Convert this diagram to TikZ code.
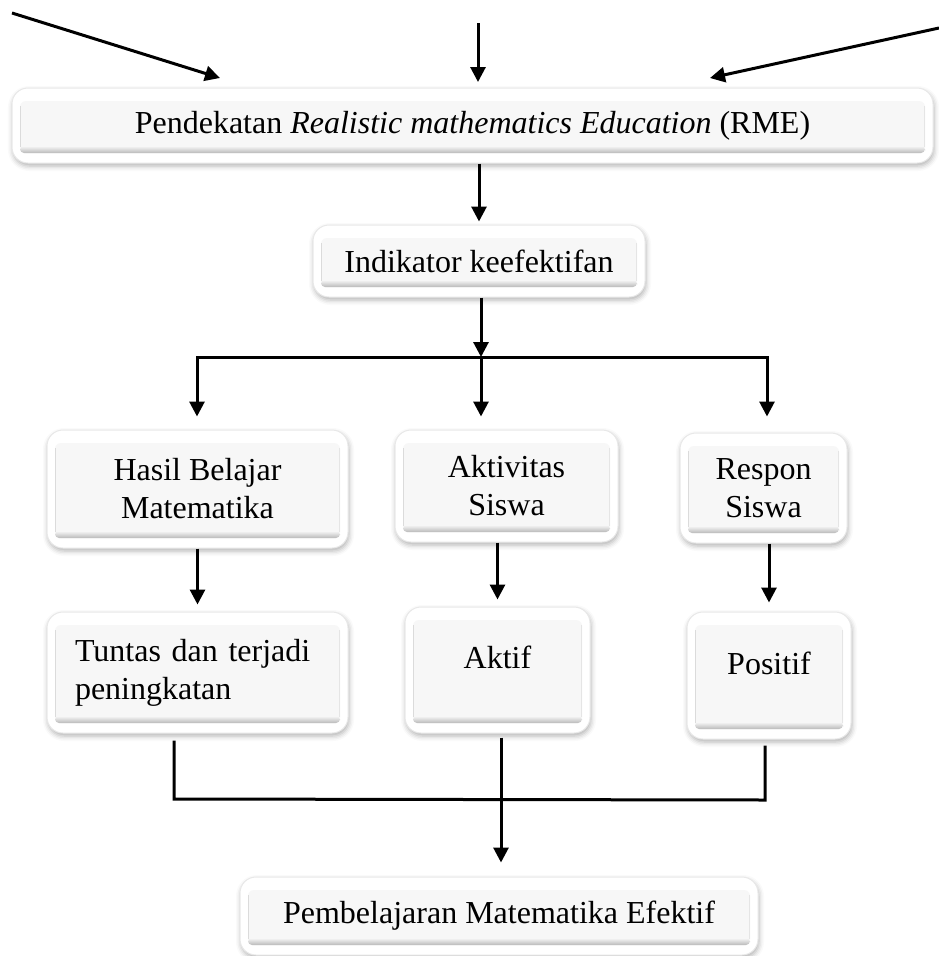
\documentclass[tikz,border=0pt]{standalone}
\usepackage{fontspec}
\setmainfont{Liberation Serif}
\usetikzlibrary{arrows.meta,shadows.blur}
\begin{document}
\begin{tikzpicture}[x=1pt,y=-1pt,
  every node/.style={font=\fontsize{32}{38}\selectfont},
  rbox/.style={rounded corners=16pt, fill=white, draw=gray!18, line width=1pt,
    inner sep=0pt,
    blur shadow={shadow xshift=1pt, shadow yshift=-3pt, shadow blur radius=5pt, shadow opacity=30},
    path picture={
      \fill[gray!6, rounded corners=6pt]
        ([xshift=8pt,yshift=-13pt]path picture bounding box.north west) rectangle
        ([xshift=-8pt,yshift=10pt]path picture bounding box.south east);
      \shade[rounded corners=4pt, top color=gray!6, bottom color=gray!55]
        ([xshift=8pt,yshift=17pt]path picture bounding box.south west) rectangle
        ([xshift=-8pt,yshift=10pt]path picture bounding box.south east);
      \draw[gray!28, line width=1.2pt]
        ([xshift=8.6pt,yshift=-18pt]path picture bounding box.north west) --
        ([xshift=8.6pt,yshift=16pt]path picture bounding box.south west);
      \draw[gray!20, line width=1pt]
        ([xshift=-8.5pt,yshift=-18pt]path picture bounding box.north east) --
        ([xshift=-8.5pt,yshift=16pt]path picture bounding box.south east);
    }},
  line/.style={line width=3pt},
  arr/.style={line width=3pt, -{Triangle[width=15pt,length=15pt]}}
]
\useasboundingbox (0,0) rectangle (939,956);

% boxes
\node[rbox, minimum width=921pt, minimum height=75pt] (rme) at (472.5,125.5)
  {Pendekatan \textit{Realistic mathematics Education} (RME)};
\node[rbox, minimum width=332pt, minimum height=72pt] (ind) at (479,261)
  {Indikator keefektifan};
\node[rbox, minimum width=301pt, minimum height=118pt, align=center] (hasil) at (197.5,489)
  {Hasil Belajar\\Matematika};
\node[rbox, minimum width=223pt, minimum height=112pt, align=center] (aktv) at (506.5,486)
  {Aktivitas\\Siswa};
\node[rbox, minimum width=167pt, minimum height=110pt, align=center] (resp) at (763.5,488)
  {Respon\\Siswa};
\node[rbox, minimum width=301pt, minimum height=121pt, text width=245pt, align=left] (tuntas) at (197.5,672.5)
  {Tuntas dan terjadi\\peningkatan};
\node[rbox, minimum width=185pt, minimum height=126pt, text depth=26pt] (aktif) at (497.5,670)
  {Aktif};
\node[rbox, minimum width=164pt, minimum height=127pt, text depth=25pt] (posi) at (769,675.5)
  {Positif};
\node[rbox, minimum width=518pt, minimum height=78pt] (pemb) at (499,916)
  {Pembelajaran Matematika Efektif};

% top incoming arrows
\coordinate (a1s) at (12,13);  \coordinate (a1e) at (220,78);
\coordinate (a2s) at (478,23); \coordinate (a2e) at (478,82);
\coordinate (a3s) at (939,28); \coordinate (a3e) at (710,78);
\draw[arr] (a1s) -- (a1e);
\draw[arr] (a2s) -- (a2e);
\draw[arr] (a3s) -- (a3e);

% RME -> Indikator
\draw[arr, shorten >=3pt] (ind.north |- rme.south) -- (ind.north);

% Indikator -> branch
\coordinate (j) at (481,357);
\coordinate (jl) at (197,357);
\coordinate (jr) at (767,357);
\draw[arr] (ind.south -| j) -- (j);
\draw[line, line cap=rect] (jl) -- (jr);
\draw[arr, shorten >=13pt] (jl) -- (jl |- hasil.north);
\draw[arr, shorten >=13pt] (j) -- (j |- aktv.north);
\draw[arr, shorten >=16pt] (jr) -- (jr |- resp.north);

% second row arrows
\draw[arr, shorten >=7pt] (hasil.south) -- (tuntas.north);
\draw[arr, shorten >=7pt] (aktif.north |- aktv.south) -- (aktif.north);
\draw[arr, shorten >=9pt] (posi.north |- resp.south) -- (posi.north);

% merge to bottom
\coordinate (bl) at (174,799);
\coordinate (br) at (765,800);
\coordinate (m) at (501,799);
\draw[line, shorten <=7pt, shorten >=6pt] (bl |- tuntas.south) -- (bl) -- (br) -- (br |- posi.south);
\draw[arr, shorten <=4pt, shorten >=14pt] (m |- aktif.south) -- (m |- pemb.north);
\end{tikzpicture}
\end{document}
